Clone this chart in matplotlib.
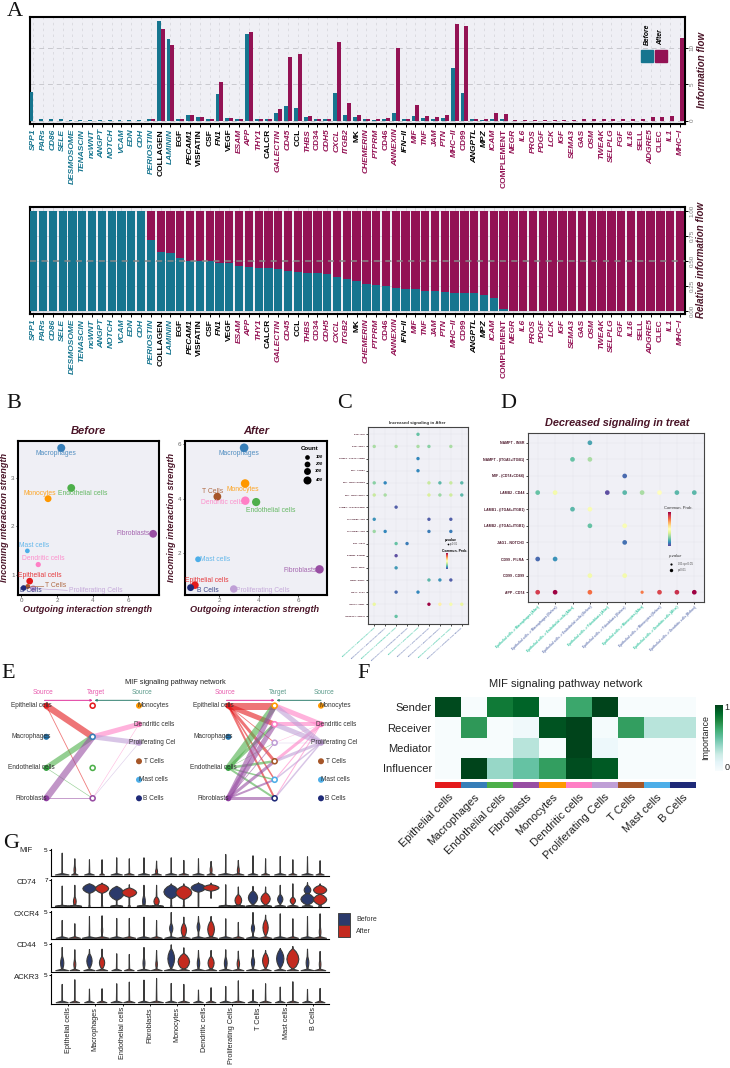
import numpy as np
import matplotlib
matplotlib.use("Agg")
import matplotlib.pyplot as plt
from matplotlib.patches import Rectangle

plt.rcParams["font.family"] = ["Liberation Sans", "DejaVu Sans"]

W, H = 730, 1068
TEAL = "#16758F"
PLUM = "#931254"
MAROON = "#4A1528"
PANEL_BG = "#EFEFF5"

# Panel A: information flow per pathway
PATHWAYS = ["SPP1", "PARs", "CD86", "SELE", "DESMOSOME", "TENASCIN", "ncWNT", "ANGPT", "NOTCH", "VCAM",
            "EDN", "CDH", "PERIOSTIN", "COLLAGEN", "LAMININ", "EGF", "PECAM1", "VISFATIN", "CSF", "FN1",
            "VEGF", "ESAM", "APP", "THY1", "CALCR", "GALECTIN", "CD45", "CCL", "THBS", "CD34",
            "CDH5", "CXCL", "ITGB2", "MK", "CHEMERIN", "PTPRM", "CD46", "ANNEXIN", "IFN−II", "MIF",
            "TNF", "JAM", "PTN", "MHC−II", "CD99", "ANGPTL", "MPZ", "ICAM", "COMPLEMENT", "NEGR",
            "IL6", "PROS", "PDGF", "LCK", "IGF", "SEMA3", "GAS", "OSM", "TWEAK", "SELPLG",
            "FGF", "IL16", "SELL", "ADGRE5", "CLEC", "IL1", "MHC−I"]
TEAL_LABELS = ["SPP1", "PARs", "CD86", "SELE", "DESMOSOME", "TENASCIN", "ncWNT", "ANGPT", "NOTCH", "VCAM",
               "EDN", "CDH", "PERIOSTIN", "LAMININ"]
BLACK_LABELS = ["COLLAGEN", "EGF", "PECAM1", "VISFATIN", "CSF", "FN1", "VEGF", "CALCR", "CCL", "MK",
                "IFN−II", "ANGPTL", "MPZ"]
UPRIGHT_LABELS = ["COLLAGEN", "EGF", "VISFATIN", "CSF", "VEGF", "CALCR", "CCL", "MK", "CD99", "CD46",
                  "COMPLEMENT", "SELL", "CLEC", "CD34"]
FLOW_BEFORE = [3.9, .28, .28, .25, .15, .15, .15, .15, .15, .15, .12, .1, .25, 13.7, 11.2, .25, .85, .5, .3, 3.65,
               .35, .3, 11.9, .3, .25, 1.1, 2.0, 1.8, .45, .2, .2, 3.75, .85, .45, .18, .15, .25, 1.05, .2, .6,
               .35, .3, .35, 7.25, 3.8, .2, .15, .3, .2,
               0, 0, 0, 0, 0, 0, 0, 0, 0, 0, 0, 0, 0, 0, 0, 0, 0, 0]
FLOW_AFTER = [0, .03, .03, .03, .03, .03, .03, .03, .03, .03, .03, .03, .2, 12.6, 10.45, .25, .85, .45, .3, 5.35,
              .35, .3, 12.25, .3, .25, 1.65, 8.7, 9.15, .6, .2, .2, 10.8, 2.4, .8, .22, .2, .35, 10.0, .3, 2.1,
              .6, .45, .8, 13.3, 13.0, .25, .2, 1.05, .95,
              .12, .13, .15, .14, .16, .16, .16, .18, .18, .18, .2, .22, .25, .25, .5, .55, .65, 11.4]
RELATIVE_BEFORE = [1, 1, 1, 1, 1, 1, 1, 1, 1, 1, 1, 1, .716, .59, .58, .53, .5, .5, .5, .48,
                   .48, .45, .44, .43, .43, .415, .40, .39, .38, .375, .37, .335, .32, .30, .27, .26, .25, .23, .22, .22,
                   .20, .20, .19, .18, .175, .175, .16, .13, .02,
                   0, 0, 0, 0, 0, 0, 0, 0, 0, 0, 0, 0, 0, 0, 0, 0, 0, 0]

# Panel B: outgoing / incoming strength per cell type
CELL_TYPES = ["Epithelial cells", "Macrophages", "Endothelial cells", "Fibroblasts", "Monocytes",
              "Dendritic cells", "Proliferating Cells", "T Cells", "Mast cells", "B Cells"]
CELL_COLORS = ["#E41A1C", "#377EB8", "#4DAF4A", "#984EA3", "#FF9800",
               "#FF7FC5", "#BF9FD6", "#A65628", "#4DAEE8", "#1F2A78"]
OUT_BEFORE = [.47, 2.24, 2.80, 7.39, 1.50, .95, .67, .36, .34, .13]
IN_BEFORE = [.88, 3.61, 2.79, 1.85, 2.57, 1.22, .73, .77, 1.50, .74]
COUNT_BEFORE = [280, 400, 380, 380, 300, 150, 240, 120, 100, 180]
OUT_AFTER = [.76, 3.26, 3.87, 7.09, 3.31, 3.32, 2.73, 1.90, .92, .54]
IN_AFTER = [.82, 5.86, 3.87, 1.40, 4.55, 3.92, .68, 4.07, 1.77, .73]
COUNT_AFTER = [360, 460, 420, 440, 450, 440, 350, 380, 200, 300]
COUNT_KEYS = [100, 200, 300, 400]
# label offsets from each point, in pixels
LABEL_OFF_BEFORE = [(10.3, -5.3), (-5.3, 5.7), (11.7, 5.7), (-19.7, 0), (-8.7, -5.3),
                    (5, -5.7), (62.3, 2.3), (28.3, -.7), (6.7, -5.7), (7, 3)]
LABEL_OFF_AFTER = [(12.3, -5), (-5.3, 5.7), (14.7, 8), (-19.3, .7), (-2.3, 6),
                   (-23.3, 2), (28.7, 2), (-4.7, -5.3), (17, 0), (17.3, 3.3)]

# Panel C: increased signaling, (row, col, prob)
C_ROWS = ["PTN - NCL", "PTN - SDC4", "NAMPT - (ITGA5+ITGB1)", "MIF - ACKR3", "MIF - (CD74+CXCR4)", "MIF - (CD74+CD44)",
          "LAMB2 - (ITGA3+ITGB1)", "HLA-DRB5 - CD4", "HLA-DRB1 - CD4", "FN1 - CD44", "PTPRM - PTPRM", "CD34 - SELP",
          "CD99 - PILRA", "CD46 - JAG1", "ANXA1 - FPR1", "ANGPTL4 - CDH11"]
C_COLS = ["Epithelial cells -> Macrophages (After)", "Epithelial cells -> Macrophages (Before)",
          "Epithelial cells -> Endothelial cells (After)", "Epithelial cells -> Endothelial cells (Before)",
          "Epithelial cells -> Fibroblasts (After)", "Epithelial cells -> Fibroblasts (Before)",
          "Epithelial cells -> Monocytes (Before)", "Epithelial cells -> Dendritic cells (After)",
          "Epithelial cells -> Dendritic cells (Before)"]
C_DOT_ROW = [0, 1, 1, 1, 1, 1, 2, 3, 4, 4, 4, 4, 4, 4, 5, 5, 5, 5, 5, 5, 6, 7, 7, 7, 8, 8, 8, 8,
             9, 9, 10, 11, 12, 12, 12, 13, 13, 14, 14, 14, 14, 14, 15]
C_DOT_COL = [4, 0, 2, 4, 5, 7, 4, 4, 0, 1, 5, 6, 7, 8, 0, 1, 5, 6, 7, 8, 2, 0, 5, 7, 0, 1, 5, 7,
             2, 3, 2, 2, 5, 6, 7, 2, 4, 0, 5, 6, 7, 8, 2]
C_DOT_PROB = [.2, .3, .3, .3, .25, .3, .1, .1, .25, .1, .35, .18, .35, .18, .35, .3, .38, .28, .36, .18,
              .03, .12, .03, .03, .28, .1, .08, .08, .2, .08, 0, .13, .18, .12, .03, .05, .1,
              .42, 1.0, .55, .46, .42, .2]

# Panel D: decreased signaling
D_ROWS = ["NAMPT - INSR", "NAMPT - (ITGA5+ITGB1)", "MIF - (CD74+CD44)", "LAMB2 - CD44", "LAMB1 - (ITGA6+ITGB1)",
          "LAMB2 - (ITGA1+ITGB1)", "JAG1 - NOTCH3", "CD99 - PILRA", "CD99 - CD99", "APP - CD74"]
D_COLS = ["Epithelial cells -> Macrophages (After)", "Epithelial cells -> Macrophages (Before)",
          "Epithelial cells -> Endothelial cells (After)", "Epithelial cells -> Endothelial cells (Before)",
          "Epithelial cells -> Fibroblasts (After)", "Epithelial cells -> Fibroblasts (Before)",
          "Epithelial cells -> Monocytes (After)", "Epithelial cells -> Monocytes (Before)",
          "Epithelial cells -> Dendritic cells (After)", "Epithelial cells -> Dendritic cells (Before)"]
D_DOT_ROW = [0, 1, 1, 2, 3, 3, 3, 3, 3, 3, 3, 3, 4, 4, 5, 5, 6, 7, 7, 8, 8, 9, 9, 9, 9, 9, 9, 9]
D_DOT_COL = [3, 2, 3, 5, 0, 1, 4, 5, 6, 7, 8, 9, 2, 3, 3, 5, 5, 0, 1, 3, 5, 0, 1, 3, 6, 7, 8, 9]
D_DOT_PROB = [.15, .2, .3, .05, .2, .45, 0, .18, .3, .5, .18, .18, .18, .47, .2, .47, .06, .05, .12, .45, .45,
              .9, 1.0, .8, .78, .88, .92, 1.0]
# the one weaker-significance dot, drawn smaller: APP - CD74 in the seventh column
D_DOT_SIZE = [11.4] * 24 + [5.5] + [11.4] * 3

# Panel E: edge widths of the MIF network
E_LEFT = ["Epithelial cells", "Macrophages", "Endothelial cells", "Fibroblasts"]
E_RIGHT = ["Monocytes", "Dendritic cells", "Proliferating Cel", "T Cells", "Mast cells", "B Cells"]
E_BEFORE_LEFT = [[0, 6.5, 0, .8], [0, 0, 0, 0], [0, 5.5, 0, .6], [0, 6.5, 0, .9]]
E_BEFORE_RIGHT = [[0, 0, 0, 0], [0, 5, 0, .5], [0, 5, 0, .5], [0, 0, 0, 0], [0, 0, 0, 0], [0, 0, 0, 0]]
E_AFTER_LEFT = [[7, 5, .8, 3, 1.5, 2], [0, 0, 0, 0, 0, 0], [6.5, 3, .5, 2.5, 1.5, 2], [5, 5, .8, 3, 2, 3]]
E_AFTER_RIGHT = [[0, 0, 0, 0, 0, 0], [5, 4, .4, 3, 1, 1], [5, 5, .4, 3, 1.5, 1.5],
                 [0, 0, 0, 0, 0, 0], [0, 0, 0, 0, 0, 0], [0, 0, 0, 0, 0, 0]]

# Panel F: signaling roles
ROLES = ["Sender", "Receiver", "Mediator", "Influencer"]
ROLE_SCORES = [[.98, 0, .82, .9, 0, .65, 1, 0, 0, 0],
               [0, .7, 0, .05, .95, 1, .02, .68, .3, .3],
               [0, 0, 0, .3, .01, 1, .07, 0, 0, 0],
               [0, 1, .38, .5, .68, .97, .93, 0, 0, 0]]

# Panel G: violin outlines per gene, Before/After alternating for each cell type.
# bulges are (centre, half width 0-1, half height)
GENES = ["MIF", "CD74", "CXCR4", "CD44", "ACKR3"]
GENE_TICK = [5, 7, 5, 5, 5]
MIF_TOP = [4.46, 3.31, 3.11, 3.11, 3.51, 3.31, 3.51, 2.84, 3.51, 2.97, 3.31, 2.77, 4.19, 2.97, 3.92, 3.31, 3.78, 3.11, 3.72, 2.91]
MIF_BASE = [.85, .4, .6, .3, .7, .6, .7, .6, .7, .6, .7, .5, .9, .7, .6, .5, .7, .5, .7, .5]
MIF_BULGE = {1: [(1.0, .1, 1)], 7: [(.7, .12, .7)], 11: [(1.0, .12, 1)], 13: [(.9, .12, 1)]}
CD74_TOP = [5.5, 5.7, 6.1, 6.3, 5.25, 5.85, 5.7, 5.7, 6.1, 6.1, 6.4, 6.3, 5.85, 5.25, 5.4, 5.25, 5.7, 6.1, 6.4, 6.1]
CD74_BASE = [.85, .85, .1, .1, .75, .15, .85, .85, .1, .1, .05, 0, .85, .85, .85, .75, .65, .65, .65, .2]
CD74_BULGE = {1: [(1.3, .17, 1.3)], 2: [(4.8, .83, 1.3)], 3: [(4.8, .83, 1.3)], 4: [(3.5, .92, 1.9)], 5: [(3.7, .92, 1.3)],
              6: [(1.3, .17, 1.7)], 7: [(1.3, .33, 1.3)], 8: [(3.9, .92, 1.9)], 9: [(3.7, 1, 1.9)], 10: [(5.0, .92, 1.2)],
              11: [(5.0, 1, .9)], 13: [(1.6, .42, 1.6)], 14: [(2.3, .58, 1.9)], 15: [(2.0, .58, 1.7)], 16: [(1.9, .33, 1.3)],
              17: [(1.5, .33, 1)], 18: [(1.9, .83, 1.6), (4.4, .42, 1.3)], 19: [(1.8, .83, 1.5), (4.4, .83, 1.3)]}
CD74_FLOOR = {11: 2.2}
CXCR4_TOP = [3.46, 2.82, 4.23, 4.36, 3.85, 3.85, 4.1, 3.46, 5, 4.1, 4.23, 4.23, 3.78, 3.08, 5, 4.49, 4.74, 3.78, 4.23, 4.74]
CXCR4_BASE = [.75, .7, .9, .9, .8, .8, .8, .7, .8, .8, .8, .8, .8, .7, .8, .8, .8, .7, .8, .8]
CXCR4_BULGE = {3: [(1.5, .08, 1)], 8: [(1.9, .2, 1)], 9: [(1.54, .33, 1.4)], 10: [(2.2, .17, 1)], 11: [(1.73, .42, 1.7)],
               14: [(1.9, .2, 1)], 15: [(2.05, .33, 1.6)], 19: [(1.2, .1, 1.1)]}
CD44_TOP = [4.43, 3.99, 4.05, 4.11, 3.23, 3.1, 4.43, 3.86, 4.94, 4.37, 3.86, 3.86, 3.99, 3.73, 3.99, 3.86, 4.24, 4.62, 4.11, 3.67]
CD44_BASE = [.8, .6, .7, .7, .6, .6, .8, .7, .85, .7, .8, .7, .8, .7, .8, .7, .7, .7, .8, .7]
CD44_BULGE = {0: [(1.45, .2, 1.3)], 1: [(1.2, .12, 1)], 2: [(1.84, .33, 1.4)], 3: [(1.5, .33, 1.2)], 6: [(1.4, .12, 1.2)],
              7: [(1.2, .1, 1)], 8: [(2.28, .42, 1.9)], 9: [(1.7, .72, 1.6)], 10: [(1.4, .15, 1.2)], 11: [(1.45, .38, 1.3)],
              12: [(1.4, .17, 1.2)], 13: [(1.3, .15, 1)], 14: [(1.6, .2, 1.2)], 15: [(1.9, .38, 1.5)], 16: [(2.28, .46, 1.8)],
              17: [(2.2, .75, 2)], 18: [(1.5, .17, 1.2)], 19: [(1.2, .1, 1)]}
ACKR3_TOP = [3.4, 4.26, 2.53, 2.59, 3.52, 3.83, 4.2, 4.51, 3.58, 3.4, 2.35, 2.78, 3.02, 4.07, 2.41, 3.52, 2.9, 3.89, 2.47, 2.65]
ACKR3_BASE = [.75, .6, .6, .6, .7, .7, .7, .85, .7, .7, .6, .6, .7, .8, .6, .7, .6, .7, .6, .6]
ACKR3_BULGE = {}


def px_axes(x0, y0, x1, y1):
    # axes placed with pixel corners, y measured from the top of the figure
    return fig.add_axes([x0 / W, 1 - y1 / H, (x1 - x0) / W, (y1 - y0) / H])


def pt(px):
    return px * 0.72


fig = plt.figure(figsize=(W / 100, H / 100), dpi=100, facecolor="white")

# whole-figure overlay for free text, in pixel units
canvas = fig.add_axes([0, 0, 1, 1], zorder=20)
canvas.set_xlim(0, W)
canvas.set_ylim(H, 0)
canvas.axis("off")

for letter, lx, ly in [("A", 7, 16), ("B", 6, 408), ("C", 337, 408), ("D", 500, 408),
                       ("E", 1, 678), ("F", 357, 678), ("G", 3, 848)]:
    canvas.text(lx, ly, letter, family="Liberation Serif", fontsize=16, color="#111", va="baseline")


def style_flow_axes(ax, ylim):
    n = len(PATHWAYS)
    ax.set_facecolor(PANEL_BG)
    ax.set_xlim(-3.3 / 9.8, n - 1 + 5 / 9.8)
    ax.set_ylim(*ylim)
    ax.yaxis.tick_right()
    ax.set_axisbelow(True)
    ax.set_xticks(range(n))
    ax.set_xticklabels(PATHWAYS, rotation=90, fontsize=6, fontweight="bold")
    for lab, name in zip(ax.get_xticklabels(), PATHWAYS):
        lab.set_color(TEAL if name in TEAL_LABELS else "black" if name in BLACK_LABELS else PLUM)
        lab.set_style("normal" if name in UPRIGHT_LABELS else "italic")
    ax.tick_params(axis="x", length=2, width=.7, pad=1.5)
    ax.tick_params(axis="y", length=2, width=.7, pad=1.5, labelsize=4.5, labelcolor="#777")
    for s in ax.spines.values():
        s.set_linewidth(1.5)
        s.set_color("black")
    for lab in ax.get_yticklabels():
        lab.set_rotation(90)
        lab.set_va("center")


# Panel A, absolute flow
ax = px_axes(30, 17, 685, 124)
x = np.arange(len(PATHWAYS))
ax.bar(x - .2, FLOW_BEFORE, width=.4, color=TEAL, zorder=3)
ax.bar(x + .2, FLOW_AFTER, width=.4, color=PLUM, zorder=3)
ax.set_yticks([0, 5, 10])
style_flow_axes(ax, (-.45, 14.26))
ax.grid(True, axis="x", color="#d8d8de", lw=.6, ls=(0, (3, 4)))
ax.grid(True, axis="y", color="#c8c8ce", lw=.7, ls=(0, (5, 4)))
canvas.text(702, 70, "Information flow", rotation=90, fontsize=7, fontweight="bold", style="italic",
            color=MAROON, ha="center", va="center")
# Before / After key
canvas.add_patch(Rectangle((641, 50), 12.3, 12, color=TEAL))
canvas.add_patch(Rectangle((655, 50), 12.3, 12, color=PLUM))
canvas.text(647, 45, "Before", rotation=90, fontsize=4.9, style="italic", fontweight="bold", ha="center", va="bottom")
canvas.text(661, 45, "After", rotation=90, fontsize=4.9, style="italic", fontweight="bold", ha="center", va="bottom")

# Panel A, relative flow
ax = px_axes(30, 207, 685, 314)
before = np.array(RELATIVE_BEFORE)
ax.bar(x, before, width=.85, color=TEAL, zorder=3)
ax.bar(x, 1 - before, bottom=before, width=.85, color=PLUM, zorder=3)
ax.axhline(.5, color="#888888", lw=1.1, ls=(0, (4, 3.5)), zorder=4)
ax.set_yticks([0, .25, .5, .75, 1])
ax.set_yticklabels(["0.00", "0.25", "0.50", "0.75", "1.00"])
style_flow_axes(ax, (-.033, 1.043))
ax.grid(True, axis="y", color="#d4d4da", lw=.6)
ax.grid(True, axis="x", color="#d4d4da", lw=.6)
canvas.text(701, 260, "Relative information flow", rotation=90, fontsize=7, fontweight="bold", style="italic",
            color=MAROON, ha="center", va="center")


def count_to_size(count):
    return pt(3.6 + .011 * count) ** 2


def scatter_panel(box, xlim, ylim, xvals, yvals, counts, offs, xticks, yticks, title, title_x, ylab_x, xlab_x):
    ax = px_axes(*box)
    ax.set_facecolor(PANEL_BG)
    ax.set_xlim(*xlim)
    ax.set_ylim(*ylim)
    ax.scatter(xvals, yvals, s=[count_to_size(c) for c in counts], c=CELL_COLORS, linewidths=0, zorder=3)
    for name, col, vx, vy, (dx, dy) in zip(CELL_TYPES, CELL_COLORS, xvals, yvals, offs):
        ax.annotate(name, (vx, vy), xytext=(pt(dx), pt(-dy)), textcoords="offset points", fontsize=4.9,
                    color=col, alpha=.85, ha="center", va="center", zorder=4)
    ax.set_xticks(xticks)
    ax.set_yticks(yticks)
    ax.tick_params(length=1.5, width=.5, labelsize=4.5, labelcolor="#666", pad=1)
    for s in ax.spines.values():
        s.set_linewidth(1.5)
    canvas.text(title_x, 431, title, fontsize=8, fontweight="bold", style="italic", color=MAROON, ha="center", va="center")
    canvas.text(ylab_x, 517, "Incoming interaction strength", rotation=90, fontsize=6.6, fontweight="bold",
                style="italic", color=MAROON, ha="center", va="center")
    canvas.text(xlab_x, 610, "Outgoing interaction strength", fontsize=6.6, fontweight="bold", style="italic",
                color=MAROON, ha="center", va="center")
    return ax


ax = scatter_panel((18, 441, 159, 595), (-.185, 7.72), (.596, 3.752), OUT_BEFORE, IN_BEFORE, COUNT_BEFORE,
                   LABEL_OFF_BEFORE, [0, 2, 4, 6], [1, 2, 3], "Before", 88.7, 5, 88)
# leader lines for the crowded labels
ax.annotate("", (OUT_BEFORE[7], IN_BEFORE[7]), xytext=(pt(19), 0), textcoords="offset points",
            arrowprops=dict(arrowstyle="-", color=CELL_COLORS[7], lw=.4))
ax.annotate("", (OUT_BEFORE[6], IN_BEFORE[6]), xytext=(pt(37), pt(-2)), textcoords="offset points",
            arrowprops=dict(arrowstyle="-", color=CELL_COLORS[6], lw=.4))
ax = scatter_panel((185, 441, 327, 595), (.256, 7.47), (.459, 6.11), OUT_AFTER, IN_AFTER, COUNT_AFTER,
                   LABEL_OFF_AFTER, [2, 4, 6], [2, 4, 6], "After", 256, 171, 255)
canvas.text(310, 449, "Count", fontsize=4.4, fontweight="bold", ha="center", va="center")
for i, c in enumerate(COUNT_KEYS):
    key_y = [457.3, 463.7, 471.3, 480.3][i]
    canvas.scatter([307.3], [key_y], s=count_to_size(c), c="black", linewidths=0)
    canvas.text(319, key_y, str(c), fontsize=3.2, style="italic", fontweight="bold", ha="center", va="center")


def dot_panel(box, rows, cols, d_row, d_col, d_prob, size, row_fs, col_fs, rot, xmargin_px, ymargin_px):
    ax = px_axes(*box)
    ax.set_facecolor("#F0F0F6")
    nx, ny = len(cols), len(rows)
    ax.set_xlim(-xmargin_px, nx - 1 + xmargin_px)
    ax.set_ylim(ny - 1 + ymargin_px, -ymargin_px)
    ax.set_axisbelow(True)
    ax.grid(True, color="#e2e2ea", lw=.3)
    ax.scatter(d_col, d_row, c=d_prob, cmap="Spectral_r", vmin=0, vmax=1, s=size, linewidths=0, zorder=3)
    ax.set_xticks(range(nx))
    ax.set_xticklabels(cols, rotation=rot, ha="right", rotation_mode="anchor", fontsize=col_fs, fontweight="bold")
    for i, lab in enumerate(ax.get_xticklabels()):
        lab.set_color("#35C4A0" if "(After)" in cols[i] else "#6C7DB5")
    ax.set_yticks(range(ny))
    ax.set_yticklabels(rows, fontsize=row_fs, fontweight="bold", color=MAROON)
    ax.tick_params(length=1.5, width=.5, pad=1)
    for s in ax.spines.values():
        s.set_linewidth(.8)
        s.set_color("#444444")
    return ax


# Panel C
ax = dot_panel((368.3, 427, 467.7, 623.7), C_ROWS, C_COLS, C_DOT_ROW, C_DOT_COL, C_DOT_PROB, 6, 1.6, 1.7, 42,
               5.9 / 10.9, 7.3 / 12.13)
canvas.text(417.7, 422.7, "Increased signaling in After", fontsize=3.2, fontweight="bold", color="#333",
            ha="center", va="center")
canvas.text(450.3, 540.3, "p-value", fontsize=2.4, fontweight="bold", ha="center", va="center")
canvas.scatter([448.3], [544], s=1.5, c="black", linewidths=0)
canvas.text(454, 544, "p<0.01", fontsize=1.8, ha="center", va="center", color="#444")
canvas.text(455, 550.7, "Commun. Prob.", fontsize=2.4, fontweight="bold", ha="center", va="center")
cax = px_axes(446, 553.3, 448, 569)
cax.imshow(np.linspace(1, 0, 64)[:, None], cmap="Spectral_r", aspect="auto")
cax.axis("off")

# Panel D
ax = dot_panel((527.7, 433.3, 704.3, 601.7), D_ROWS, D_COLS, D_DOT_ROW, D_DOT_COL, D_DOT_PROB, D_DOT_SIZE, 2.5, 2.3, 44,
               10 / 17.4, 9.4 / 16.5)
canvas.text(616.7, 423.3, "Decreased signaling in treat", fontsize=7.8, fontweight="bold", style="italic",
            color=MAROON, ha="center", va="center")
canvas.text(678, 508.3, "Commun. Prob.", fontsize=3, ha="center", va="center", color="#333")
cax = px_axes(668.3, 512.3, 671, 545.7)
cax.imshow(np.linspace(1, 0, 64)[:, None], cmap="Spectral_r", aspect="auto")
cax.axis("off")
canvas.text(675, 556.3, "p-value", fontsize=3, style="italic", ha="center", va="center", color="#333")
canvas.scatter([671], [563.7], s=2.5, c="black", linewidths=0)
canvas.scatter([671], [570], s=6, c="black", linewidths=0)
canvas.text(678, 563.7, "0.01<p<0.05", fontsize=2, ha="left", va="center", color="#444")
canvas.text(678, 570, "p<0.01", fontsize=2, ha="left", va="center", color="#444")

# Panel E, hierarchy networks
canvas.text(175, 683, "MIF signaling pathway network", fontsize=5.3, color="#222", ha="center", va="center")
LEFT_ROWS = [0, 1.68, 3.36, 5]
LEFT_COLORS = ["#E41A1C", "#1F6FA8", "#2E9E3A", "#8E3FA0"]
RIGHT_COLORS = CELL_COLORS[4:7] + CELL_COLORS[7:]


def network(shift, left_w, right_w, target_rows, target_colors):
    ax = px_axes(46.3 + shift, 705.7, 139 + shift, 798.3)
    ax.set_xlim(0, 2)
    ax.set_ylim(5, 0)
    ax.axis("off")
    for i, row in enumerate(left_w):
        for j, w in enumerate(row):
            if w > 0:
                ax.plot([0, 1], [LEFT_ROWS[i], target_rows[j]], color=CELL_COLORS[:4][i], lw=pt(w), alpha=.6,
                        solid_capstyle="butt", clip_on=False, zorder=2)
    for i, row in enumerate(right_w):
        for j, w in enumerate(row):
            if w > 0:
                ax.plot([2, 1], [i, target_rows[j]], color=RIGHT_COLORS[i], lw=pt(w), alpha=.6,
                        solid_capstyle="butt", clip_on=False, zorder=2)
    ax.scatter([0] * 4, LEFT_ROWS, s=pt(6) ** 2, c=LEFT_COLORS, linewidths=0, clip_on=False, zorder=3)
    ax.scatter([2] * 6, range(6), s=pt(6) ** 2, c=RIGHT_COLORS, linewidths=0, clip_on=False, zorder=3)
    ax.scatter([1] * len(target_rows), target_rows, s=pt(5) ** 2, facecolors="white", edgecolors=target_colors,
               linewidths=pt(1.6), clip_on=False, zorder=3)
    # Source / Target header
    ax.annotate("", (1, -.29), xytext=(-.04, -.29), annotation_clip=False,
                arrowprops=dict(arrowstyle="-|>", color="#E0309A", lw=.7, mutation_scale=3, shrinkA=0, shrinkB=0))
    ax.annotate("", (1.04, -.29), xytext=(2, -.29), annotation_clip=False,
                arrowprops=dict(arrowstyle="-|>", color="#2F7F6F", lw=.7, mutation_scale=3, shrinkA=0, shrinkB=0))
    for lab, row_y in zip(E_LEFT, LEFT_ROWS):
        ax.annotate(lab, (0, row_y), xytext=(pt(-15.3), 0), textcoords="offset points", fontsize=4.7, color="#333",
                    ha="center", va="center", annotation_clip=False, zorder=5)
    for i, lab in enumerate(E_RIGHT):
        dx = 12.7 if i == 2 else 14.7
        ax.annotate(lab, (2, i), xytext=(pt(dx), 0), textcoords="offset points", fontsize=4.7, color="#333",
                    ha="center", va="center", annotation_clip=False, zorder=5)
    canvas.text(43 + shift, 692.7, "Source", fontsize=4.7, color="#E85BAE", ha="center", va="center")
    canvas.text(96 + shift, 692, "Target", fontsize=4.7, color="#E85BAE" if shift == 0 else "#5A9A8A", ha="center", va="center")
    canvas.text(141.7 + shift, 692.7, "Source", fontsize=4.7, color="#5A9A8A", ha="center", va="center")


network(0, E_BEFORE_LEFT, E_BEFORE_RIGHT, LEFT_ROWS, CELL_COLORS[:4])
network(182, E_AFTER_LEFT, E_AFTER_RIGHT, list(range(6)), RIGHT_COLORS)

# Panel F, role heatmap
ax = px_axes(435.3, 697, 695.7, 778.7)
ax.pcolormesh(np.array(ROLE_SCORES), cmap="BuGn", vmin=0, vmax=1)
ax.set_ylim(4, 0)
ax.set_yticks(np.arange(4) + .5)
ax.set_yticklabels(ROLES, fontsize=8, color="#222")
ax.set_xticks([])
ax.tick_params(length=0, pad=2.5)
for s in ax.spines.values():
    s.set_visible(False)
canvas.text(565.7, 684.3, "MIF signaling pathway network", fontsize=8, color="#222", ha="center", va="center")

ax = px_axes(435.3, 781.7, 695.7, 788)
ax.bar(range(10), [1] * 10, width=1, color=CELL_COLORS)
ax.set_xlim(-.5, 9.5)
ax.set_ylim(0, 1)
ax.set_yticks([])
ax.set_xticks(range(10))
ax.set_xticklabels(CELL_TYPES, rotation=45, ha="right", rotation_mode="anchor", fontsize=8, color="#222")
ax.tick_params(length=0, pad=3)
for s in ax.spines.values():
    s.set_visible(False)

cax = px_axes(715, 704.7, 722.7, 770.7)
cax.imshow(np.linspace(1, 0, 64)[:, None], cmap="BuGn", aspect="auto")
cax.axis("off")
canvas.text(727, 708, "1", fontsize=6.5, color="#222", ha="center", va="center")
canvas.text(727, 768, "0", fontsize=6.5, color="#222", ha="center", va="center")
canvas.text(706, 737, "Importance", rotation=90, fontsize=6.5, color="#222", ha="center", va="center")


# Panel G, stacked violins
VIOLIN_MAX = 8 / 27.25
DODGE = 6.3 / 27.25
VIOLIN_NAVY = "#2B3A6B"
VIOLIN_RED = "#C42A1F"
# rounded outline of a bulge: fraction of half height, fraction of half width
BULGE_SHAPE = [(-1, 0), (-.7, .55), (-.35, .88), (0, 1), (.35, .88), (.7, .55), (1, 0)]


def violin(ax, xc, top, base, bulges, color, floor=0):
    thin = .04
    ys, ws = [floor], [max(base, thin)]
    ys.append(floor + .3)
    ws.append(thin)
    for c, w, h in sorted(bulges):
        for fy, fw in BULGE_SHAPE:
            ys.append(max(c + fy * h, ys[-1] + .01))
            ws.append(max(w * fw, thin))
    ys.append(max(top, ys[-1] + .01))
    ws.append(0)
    ws = np.array(ws) * VIOLIN_MAX
    ax.fill_betweenx(ys, xc - ws, xc + ws, facecolor=color, edgecolor="#3a3a3a", lw=.8, zorder=3)


gene_bottom = [876, 907.3, 939.3, 971.7, 1003.7]
gene_top = [850, 880, 912, 944, 975.3]
gene_label_y = [851, 882, 914, 945.7, 977.7]
gene_tops = [MIF_TOP, CD74_TOP, CXCR4_TOP, CD44_TOP, ACKR3_TOP]
gene_bases = [MIF_BASE, CD74_BASE, CXCR4_BASE, CD44_BASE, ACKR3_BASE]
gene_bulges = [MIF_BULGE, CD74_BULGE, CXCR4_BULGE, CD44_BULGE, ACKR3_BULGE]

for g, gene in enumerate(GENES):
    ax = px_axes(51.3, gene_top[g] - 1, 329.3, gene_bottom[g])
    unit = (gene_bottom[g] - 1.5 - gene_top[g]) / GENE_TICK[g]
    ax.set_xlim(-.613, 9.587)
    ax.set_ylim(-1.5 / unit, GENE_TICK[g] + 1 / unit)
    for i in range(20):
        xc = i // 2 + (-DODGE if i % 2 == 0 else DODGE)
        col = VIOLIN_NAVY if i % 2 == 0 else VIOLIN_RED
        floor = CD74_FLOOR.get(i, 0) if gene == "CD74" else 0
        violin(ax, xc, gene_tops[g][i], gene_bases[g][i], gene_bulges[g].get(i, []), col, floor)
    ax.set_yticks([GENE_TICK[g]])
    ax.tick_params(axis="y", length=1.5, width=.7, labelsize=4.6, pad=1)
    for side in ["top", "right"]:
        ax.spines[side].set_visible(False)
    ax.spines["left"].set_linewidth(.8)
    ax.spines["bottom"].set_linewidth(.8)
    if g < 4:
        ax.set_xticks([])
    else:
        ax.set_xticks(range(10))
        ax.set_xticklabels(CELL_TYPES, rotation=90, fontsize=5.2, color="#222")
        ax.tick_params(axis="x", length=1.5, width=.6, pad=1)
    canvas.text(26.5, gene_label_y[g], gene, fontsize=5.6, color="#222", ha="center", va="center")

canvas.add_patch(Rectangle((338, 913.3), 12, 12, facecolor=VIOLIN_NAVY, edgecolor="#444", lw=.7))
canvas.add_patch(Rectangle((338, 925.3), 12, 12, facecolor=VIOLIN_RED, edgecolor="#444", lw=.7))
canvas.text(356, 919.7, "Before", fontsize=5, color="#333", va="center")
canvas.text(356, 931.7, "After", fontsize=5, color="#333", va="center")

fig.savefig("out.png", dpi=100, facecolor="white")
